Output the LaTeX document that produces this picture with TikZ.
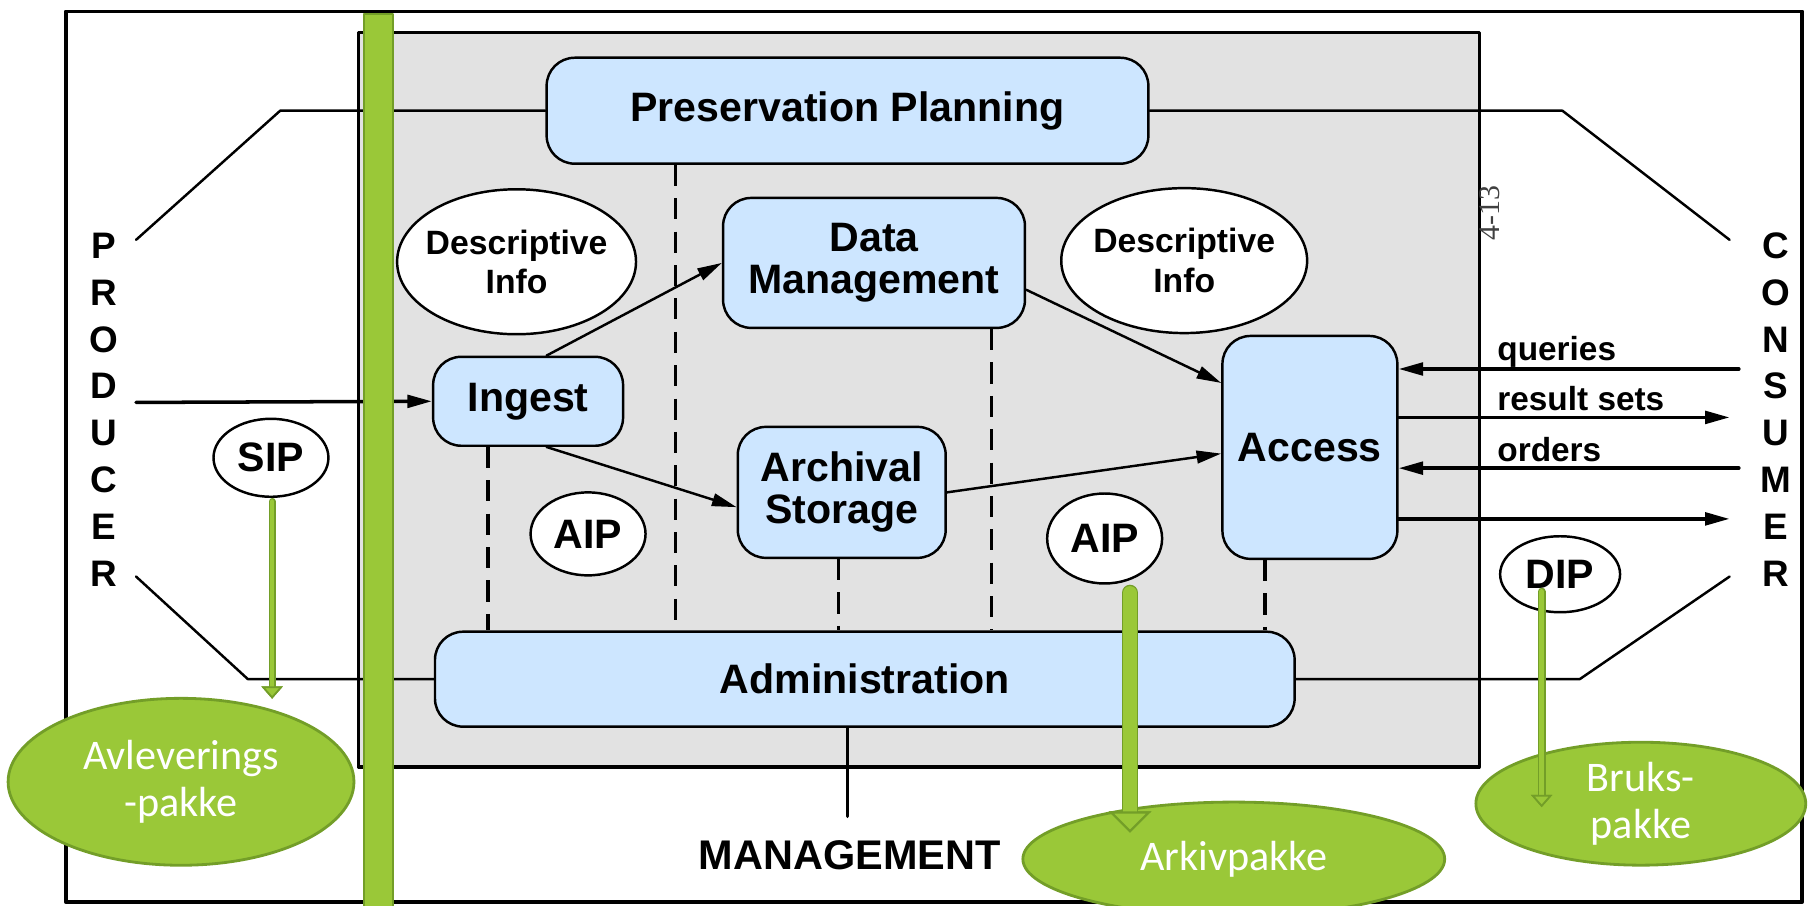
\documentclass[tikz,border=0pt]{standalone}
\usepackage{fontspec}
\setmainfont{Liberation Sans}
\newfontfamily\greenfont{Carlito}
\newfontfamily\pagefont{Liberation Serif}
\usetikzlibrary{arrows.meta,shapes.geometric}
\definecolor{ccebff}{RGB}{205,230,255}
\definecolor{qqgray}{RGB}{226,226,226}
\definecolor{ggfill}{RGB}{154,200,56}
\definecolor{ggline}{RGB}{115,158,40}

\begin{document}
\begin{tikzpicture}[line cap=round,line join=round,>={Triangle[length=7pt,width=3.6pt]},x=0.011531cm,y=-0.011531cm,
  funcbox/.style={draw,line width=0.7pt,fill=ccebff,rounded corners=8pt,inner sep=0pt,align=center,font=\fontsize{11.7}{12}\selectfont\bfseries},
  pkg/.style={ellipse,draw,line width=0.7pt,fill=white,inner sep=0pt,align=center,font=\fontsize{11.7}{12}\selectfont\bfseries},
  info/.style={pkg,inner xsep=-5pt,font=\fontsize{9.6}{11.2}\selectfont\bfseries},
  side/.style={inner sep=0pt,font=\fontsize{10.5}{12}\selectfont\bfseries},
  flowlbl/.style={anchor=base west,inner sep=0pt,font=\fontsize{9.5}{11}\selectfont\bfseries},
  norsk/.style={ellipse,draw=ggline,line width=0.8pt,fill=ggfill,text=white,inner sep=0pt,align=center,font=\greenfont\fontsize{12}{13.5}\selectfont},
  gline/.style={draw=ggfill,line width=#1,preaction={draw=ggline,line width=#1+0.8pt}},
  gthin/.style={gline=#1,-{Triangle[length=3.5pt,width=6pt,fill=ggfill,color=ggline,line width=0.5pt]}},
  gthick/.style={gline=#1,-{Triangle[length=6pt,width=12pt,fill=ggfill,color=ggline,line width=0.6pt]}},
  tieline/.style={dash pattern=on 6pt off 3.5pt,line width=1pt,line cap=butt}]
\useasboundingbox (0,0) rectangle (1568,785);
% frames
\draw[line width=1.1pt] (57,10) rectangle (1563,782);
\draw[line width=1pt,fill=qqgray] (311,28) rectangle (1283,665);
% functional entities
\node[funcbox,minimum width=6.02cm,minimum height=1.06cm] (pp) at (735,96) {Preservation Planning};
\node[funcbox,minimum width=1.90cm,minimum height=0.89cm] (ingest) at (458,348) {Ingest};
\node[funcbox,minimum width=3.02cm,minimum height=1.30cm] (dm) at (758,228) {Data\\Management};
\node[funcbox,minimum width=2.08cm,minimum height=1.31cm] (as) at (730,427) {Archival\\Storage};
\node[funcbox,minimum width=1.75cm,minimum height=2.23cm] (access) at (1136,388) {Access};
\node[funcbox,minimum width=8.60cm,minimum height=0.95cm] (adm) at (750,589) {Administration};
% packages
\node[info,minimum width=2.39cm,minimum height=1.45cm] (dil) at (448,227) {Descriptive\\Info};
\node[info,minimum width=2.46cm,minimum height=1.45cm] (dir) at (1027,226) {Descriptive\\Info};
\node[pkg,minimum width=1.15cm,minimum height=0.83cm] (aipl) at (510,463) {AIP};
\node[pkg,minimum width=1.15cm,minimum height=0.90cm] (aipr) at (958,467) {AIP};
\node[pkg,minimum width=1.15cm,minimum height=0.78cm] (sip) at (235,397) {SIP};
\node[pkg,minimum width=1.20cm,minimum height=0.76cm] (dip) at (1353,498) {DIP};
\node[rotate=90,inner sep=0pt,text=black!75,font=\pagefont\fontsize{8.5}{10}\selectfont] (pgno) at (1292,185) {4-13};
% producer / consumer
\foreach \ch [count=\i] in {P,R,O,D,U,C,E,R}
  \node[side] (prod\i) at (90,{172.5+40.6*\i}) {\ch};
\foreach \ch [count=\i] in {C,O,N,S,U,M,E,R}
  \node[side] (cons\i) at (1540,{172.5+40.6*\i}) {\ch};
\draw[line width=0.7pt] (118,208) -- (243,96) -- (pp.west);
\draw[line width=0.7pt] (pp.east) -- (1355,96) -- (1500,208);
\draw[line width=0.7pt] (118,500) -- (215,589) -- (adm.west);
\draw[line width=0.7pt] (adm.east) -- (1370,589) -- (1500,500);
\node[font=\fontsize{11.8}{13}\selectfont\bfseries] (mgmt) at (737,742) {MANAGEMENT};
\coordinate (mtop) at (735,708);
\draw[line width=1pt] (mtop |- adm.south) -- (mtop);
% dashed ties to administration
\draw[tieline,line width=0.7pt] (586,0 |- pp.south) -- (586,0 |- adm.north);
\draw[tieline] (423,0 |- ingest.south) -- (423,0 |- adm.north);
\draw[tieline] (727,0 |- as.south) -- (727,0 |- adm.north);
\draw[tieline] (860,0 |- dm.south) -- (860,0 |- adm.north);
\draw[tieline] (1097,0 |- access.south) -- (1097,0 |- adm.north);
% flows
\coordinate (prodin) at (118,349);
\draw[->,line width=1pt] (prodin) -- (ingest.west);
\draw[->,line width=0.7pt] (ingest.68) -- (dm.west);
\draw[->,line width=0.7pt] (ingest.-68) -- (as.188);
\draw[->,line width=0.7pt] (dm.-10) -- (access.144);
\draw[->,line width=0.7pt] (as.east) -- (access.184);
\coordinate (qin) at (1508,320);
\coordinate (rsout) at (1500,362);
\coordinate (ordin) at (1508,406);
\coordinate (dipout) at (1500,450);
\draw[->,line width=1pt] (qin) -- (qin -| access.east);
\draw[->,line width=1pt] (access.east |- rsout) -- (rsout);
\draw[->,line width=1pt] (ordin) -- (ordin -| access.east);
\draw[->,line width=1pt] (access.east |- dipout) -- (dipout);
\node[flowlbl] (lq) at (1298,313) {queries};
\node[flowlbl] (lrs) at (1298,356) {result sets};
\node[flowlbl] (lord) at (1298,400) {orders};
% green overlay
\draw[fill=ggfill,draw=ggline,line width=0.6pt] (316,12) rectangle (341,800);
\node[norsk,minimum width=3.46cm,minimum height=1.67cm] (avlev) at (157,678) {Avleverings\\-pakke};
\node[norsk,minimum width=4.22cm,minimum height=1.14cm] (arkiv) at (1070,745) {Arkivpakke};
\node[norsk,minimum width=3.30cm,minimum height=1.23cm] (bruks) at (1423,697) {Bruks-\\pakke};
\coordinate (sipend) at (236,606);
\coordinate (aipend) at (980,722);
\coordinate (dipend) at (1337,700);
\draw[gthin=1.2pt] (sip.south -| sipend) ++(0,3) -- (sipend);
\draw[gthick=3.8pt] (aipr.south -| aipend) ++(0,7) -- (aipend);
\draw[gthin=1.4pt] (dip.center -| dipend) ++(0,15) -- (dipend);
\end{tikzpicture}
\end{document}
